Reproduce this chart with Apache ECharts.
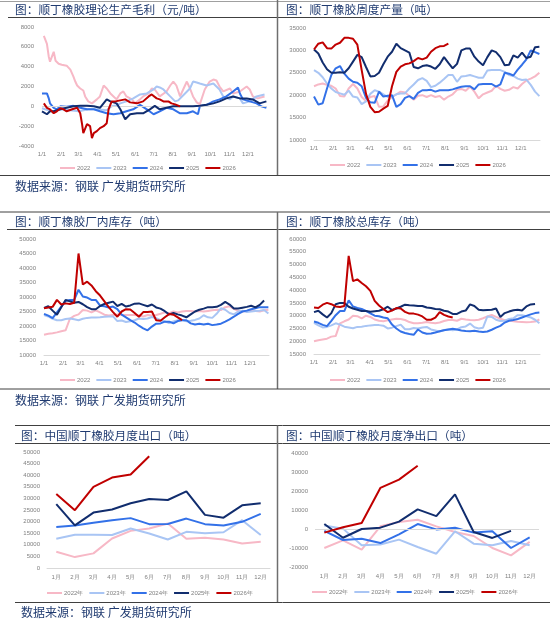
<!DOCTYPE html>
<html>
<head>
<meta charset="utf-8">
<script src="https://cdn.jsdelivr.net/npm/echarts@6/dist/echarts.min.js"></script>
<style>
  html, body { margin: 0; padding: 0; background: #fff; }
  #main { width: 550px; height: 620px; }
</style>
</head>
<body>
<div id="main"></div>
<script>
// ---- axis labels ----
var monthDays = [0, 31, 59, 90, 120, 151, 181, 212, 243, 273, 304, 334];
var monthTicks = ['1/1', '2/1', '3/1', '4/1', '5/1', '6/1', '7/1', '8/1', '9/1', '10/1', '11/1', '12/1'];
var months = ['1月', '2月', '3月', '4月', '5月', '6月', '7月', '8月', '9月', '10月', '11月', '12月'];
var years = ['2022', '2023', '2024', '2025', '2026'];
var yearsCn = ['2022年', '2023年', '2024年', '2025年', '2026年'];
var colors = ['#F7B8C6', '#A9C5F4', '#3371E8', '#112D6E', '#C00000'];

// ---- 顺丁橡胶理论生产毛利 (day of year, 元/吨) ----
var margin2022 = [[3,7100],[5,6900],[8,6300],[11,5000],[13,4500],[16,4700],[19,5500],[22,4600],[27,4300],[32,4200],[40,4100],[43,4200],[46,3700],[51,3000],[54,2500],[57,2100],[62,1800],[67,1600],[70,1000],[75,500],[81,300],[89,700],[94,1000],[100,2100],[105,1800],[111,1300],[116,1000],[121,700],[127,1300],[132,1500],[137,1000],[146,700],[151,300],[159,700],[164,1000],[173,1300],[178,1800],[183,1700],[191,1000],[202,1500],[208,2100],[213,2500],[218,2100],[224,1000],[229,1700],[235,2500],[240,1800],[245,1000],[251,400],[256,200],[259,300],[264,1700],[272,2500],[278,2700],[283,2600],[288,2000],[294,1500],[305,1800],[310,1300],[321,1500],[332,2000],[337,1700],[342,1000],[350,800],[361,1000]];
var margin2023 = [[0,-200],[10,-400],[20,-500],[30,-300],[45,-400],[60,-500],[75,-300],[90,-300],[105,-400],[113,0],[121,100],[127,300],[137,500],[148,800],[159,1200],[170,1300],[181,1700],[186,2000],[191,1900],[197,1700],[208,1000],[216,500],[221,600],[232,1300],[240,1800],[245,2500],[251,2400],[256,2300],[267,2100],[278,2300],[288,1700],[294,1000],[305,700],[310,1000],[321,800],[326,300],[337,500],[348,1000],[361,1200]];
var margin2024 = [[0,1300],[8,1300],[11,800],[13,300],[19,-150],[24,-300],[30,0],[40,-50],[51,50],[62,-150],[73,-300],[84,-300],[94,-500],[105,-700],[116,-800],[127,-700],[137,-500],[148,-300],[159,150],[170,-300],[181,-800],[191,-500],[202,-150],[213,-300],[224,-700],[235,-700],[245,-500],[253,-800],[256,0],[267,150],[278,500],[288,700],[299,1000],[310,1500],[318,1900],[321,1300],[326,700],[337,500],[348,300],[356,0],[364,-150]];
var margin2025 = [[0,-500],[8,-800],[13,-500],[19,-500],[30,-300],[40,-150],[51,0],[62,50],[73,50],[84,0],[94,-150],[105,700],[111,500],[121,300],[127,-300],[135,-1300],[143,-800],[154,-700],[164,-700],[175,-300],[183,50],[191,-300],[202,-150],[213,0],[224,0],[235,0],[245,0],[256,50],[267,150],[278,300],[288,500],[299,800],[310,1000],[321,800],[332,800],[342,700],[353,300],[364,500]];
var margin2026 = [[3,300],[8,-150],[13,-300],[19,-700],[24,-500],[30,-200],[35,-300],[40,-500],[49,-300],[57,-150],[62,-700],[65,-1800],[67,-2700],[73,-1800],[78,-2000],[81,-3200],[84,-2700],[89,-2500],[94,-2200],[100,-2000],[105,-1700],[108,-300],[113,500],[119,500],[127,600],[135,700],[143,400],[154,300],[164,500],[173,1000],[178,1200],[186,800],[191,700],[197,500],[205,500],[210,300],[216,200],[224,0]];

// ---- 顺丁橡胶周度产量 (weekly, 吨) ----
var prod2022 = [22000,22400,22600,22300,22100,21500,19800,19700,21500,22500,21500,19600,18700,19600,19800,17400,17500,18800,19600,20200,20800,20600,19800,19000,19900,20000,19600,20000,19600,19800,19000,19700,20200,21200,21400,21000,21900,20800,19300,20200,20600,21000,22100,21400,21000,21200,21800,21500,22500,23300,23700,24200,25000];
var prod2023 = [25600,25000,24000,22600,21500,20700,20400,20100,21000,19700,19500,18000,18600,20300,21100,20800,20200,19600,19700,20200,20400,20400,21500,22400,23400,23800,23200,21800,22100,22800,23600,24500,24500,23000,24200,24300,24500,24200,23900,23900,25500,25600,25600,25600,25200,24500,24300,23700,23400,23500,22300,20800,19800];
var prod2024 = [19700,17900,18200,21500,24500,26000,26500,24800,23700,23000,22800,22000,19400,18400,18300,20800,19700,19900,20000,17400,18000,19400,19800,19200,20500,21100,21100,21200,20800,21100,21100,21100,21300,21600,21900,22000,22000,21300,22400,22500,22500,22500,21900,22400,25000,24800,24400,25700,26800,28000,30000,29600,29200];
var prod2025 = [30200,29300,27300,25800,25000,25000,25100,25000,26000,27500,29000,28500,26300,24200,24300,25000,26900,28600,29700,31500,30500,30000,29500,26300,26000,26500,26700,26400,25900,26900,28500,27200,26000,27000,30000,30400,30400,28600,27500,26700,28500,30000,29600,28500,26700,26800,28900,28400,29500,28300,28600,30700,30800];
var prod2026 = [30200,31500,31800,30500,30400,31300,31700,32800,32800,32600,31300,25600,20300,17400,16200,16300,17000,17600,22000,25200,26400,26900,27100,27600,28300,28000,28400,29700,30500,30900,31000,31500];

// ---- 顺丁橡胶厂内库存 (weekly, 吨) ----
var fac2022 = [17000,17300,17500,17800,18200,18500,22500,23500,24000,25500,25300,24700,25400,24700,23900,23600,23800,24000,23800,23800,23800,23800,23600,23300,23800,23600,23800,24200,24700,24400,25000,24700,25000,25200,25200,25000,25200,25000,25200,25400,25600,25500,26500,26800,25900,25200,25000,25200,25400,25200,25000,25400,25600];
var fac2023 = [23800,23300,22500,22000,22000,22400,22600,22300,22000,22500,22800,22900,22900,23000,23200,23300,23300,21700,21900,21400,21600,22000,22600,22400,22600,23100,22700,22000,21600,21000,21600,22000,22100,21600,21800,22100,22600,23700,23000,22800,24200,26100,25600,24500,24000,25000,25300,24800,25000,25200,25300,25500,24300];
var fac2024 = [24200,23600,22700,24700,26700,28600,29000,29000,32500,30200,29800,29000,29000,27000,26800,26400,26700,25800,23900,23000,22000,21200,20100,19200,18500,19800,20800,20900,21500,21500,20900,21700,22000,22000,20900,20500,20800,20500,20800,20300,20500,20800,21500,22300,23200,24200,25000,25300,25800,26100,26500,26500,26500];
var fac2025 = [26200,26800,25300,23900,26500,29000,28500,28000,28300,27500,26500,25800,25800,26900,27600,28000,28400,26900,27600,26700,27100,27700,27800,27300,26800,27400,26400,26000,25100,24000,24500,24000,23600,23000,24000,25000,25600,26000,26500,26500,26600,27300,28300,27400,26000,26000,26300,26600,27000,26400,27300,28800];
var fac2026 = [26100,26400,26600,29000,27400,27800,27600,28000,45000,34300,35300,34000,32000,30500,28500,26500,24800,23200,25000,25800,25700,24500,23200,24800,24800,25000,22000,21800,23000,24100,23900,23000,22000];

// ---- 顺丁橡胶总库存 (weekly, 吨) ----
var tot2022 = [20000,20400,20700,21000,21800,22000,27000,27800,28500,30000,29800,28900,30000,29500,28500,28000,27800,28200,28500,28800,28700,28300,27500,27000,27000,27200,27500,27200,27000,27300,27900,28300,28300,28000,28800,28500,28300,28200,28400,29000,29700,30300,29500,28800,28200,28200,27800,27600,27500,27400,27500,27700,28500];
var tot2023 = [27200,26200,25400,25600,26200,27000,26500,25700,25400,25100,25600,25700,26000,26200,26300,26300,26100,25000,25300,25900,26500,24700,24700,25200,25000,25400,25600,24600,24200,23800,24400,24600,24300,24600,25500,25800,26900,25500,25000,25300,29700,29500,28400,27900,28000,28700,29000,30200,30200,29800,29300,28400,27000];
var tot2024 = [27700,27200,26400,25900,28000,30200,31800,31800,36000,33600,33000,32600,31900,30900,30000,29800,29300,29000,26500,25000,23800,23200,22800,22500,24600,23400,22900,23000,23400,23900,24300,24600,24900,24600,24200,24000,23900,24100,23800,23600,23800,24500,25300,26000,27300,28000,28300,28700,29300,29900,30500,31000,31200];
var tot2025 = [31400,31900,30500,29300,31000,34500,35000,35000,33500,32800,32300,31800,31800,31500,31700,31900,32500,33500,32200,32800,33500,34300,34100,34000,33800,33800,33200,33000,32600,32500,31900,31600,30700,30700,31600,32000,34400,33800,32300,32100,32200,32300,32800,29500,31000,31600,32100,32300,32000,33600,34400,34600];
var tot2026 = [33200,33000,34300,35000,34500,33600,33400,33800,53400,43500,44200,42800,41500,39700,35800,34000,32600,31400,32000,33000,32800,31500,30800,30800,30400,29700,28400,28400,29200,31400,30300,29700,29300];

// ---- 中国顺丁橡胶月度出口 (吨) ----
var exp2022 = [7000,4700,6300,12700,16000,17000,19200,12600,13000,12300,10600,11300];
var exp2023 = [12600,14300,14300,14200,17000,14900,12300,15600,15000,15400,20600,14200];
var exp2024 = [17700,18300,19500,20600,21500,18900,19000,21300,18900,18300,19900,23300];
var exp2025 = [27500,18400,23900,25200,27900,29700,29300,33000,22900,21700,27000,27900];
var exp2026 = [31900,24900,35000,39000,40300,48200];

// ---- 中国顺丁橡胶月度净出口 (吨) ----
var net2022 = [-10000,-6000,-10900,1400,3700,4900,1400,-1600,-3700,-10000,-13900,-6800];
var net2023 = [1900,200,-8600,-8200,-5600,-9500,-13000,-1200,-7700,-8600,-6300,-8600];
var net2024 = [-1000,-5800,-5100,-7400,-2800,2600,-200,700,-1900,-1200,-10000,-4400];
var net2025 = [2600,-4600,0,700,3900,10300,6800,18200,-1600,-4700,-1000];
var net2026 = [-1900,900,3200,21600,26000,33300];

function weekly(vals) {
    return vals.map(function (v, i) { return [i * 7, v]; });
}

var labelColor = '#808080';
var grids = [], xAxes = [], yAxes = [], series = [], legends = [];

function plain(v) { return String(v); }

function dayChart(box, ymin, ymax, yint, showBase) {
    var g = grids.length;
    grids.push(box);
    xAxes.push({
        type: 'value', gridIndex: g, min: 0, max: 365,
        splitLine: {show: false}, axisTick: {show: false},
        axisLine: {show: showBase, onZero: false, lineStyle: {color: '#d9d9d9'}},
        axisLabel: {
            customValues: monthDays, fontSize: 6, color: labelColor, margin: 5,
            formatter: function (v) { return monthTicks[monthDays.indexOf(v)]; }
        }
    });
    yAxes.push({
        type: 'value', gridIndex: g, min: ymin, max: ymax, interval: yint,
        splitLine: {show: false}, axisLine: {show: false}, axisTick: {show: false},
        axisLabel: {fontSize: 6, color: labelColor, margin: 8, formatter: plain}
    });
    return g;
}

function monthChart(box, ymin, ymax, yint, showBase) {
    var g = grids.length;
    grids.push(box);
    xAxes.push({
        type: 'category', gridIndex: g, data: months,
        axisTick: {show: false},
        axisLine: {show: showBase, onZero: false, lineStyle: {color: '#d9d9d9'}},
        axisLabel: {fontSize: 6, color: labelColor, margin: 6, interval: 0}
    });
    yAxes.push({
        type: 'value', gridIndex: g, min: ymin, max: ymax, interval: yint,
        splitLine: {show: false}, axisLine: {show: false}, axisTick: {show: false},
        axisLabel: {fontSize: 6, color: labelColor, margin: 7, formatter: plain}
    });
    return g;
}

function addLines(g, names, datas, zeroLine) {
    datas.forEach(function (d, k) {
        var s = {
            type: 'line', name: names[k], xAxisIndex: g, yAxisIndex: g,
            data: d, symbol: 'none', showSymbol: false,
            lineStyle: {width: 2, color: colors[k]}, itemStyle: {color: colors[k]},
            z: 2 + k
        };
        if (zeroLine && k === 0) {
            s.markLine = {
                silent: true, symbol: 'none', label: {show: false},
                lineStyle: {color: '#d9d9d9', type: 'solid', width: 1},
                data: [{yAxis: 0}]
            };
        }
        series.push(s);
    });
}

function addLegend(names, left, top) {
    legends.push({
        data: names, left: left, top: top, padding: 0,
        icon: 'rect', itemWidth: 15, itemHeight: 2, itemGap: 6,
        textStyle: {fontSize: 6, color: labelColor, padding: [0, 0, 0, -3]}
    });
}

// top-left: margin
var g1 = dayChart({left: 42, right: 283, top: 27, bottom: 474}, -4000, 8000, 2000, false);
addLines(g1, years, [margin2022, margin2023, margin2024, margin2025, margin2026], true);
addLegend(years, 60, 165);

// top-right: production
var g2 = dayChart({left: 314, right: 10, top: 28, bottom: 480}, 10000, 35000, 5000, true);
addLines(g2, years, [weekly(prod2022), weekly(prod2023), weekly(prod2024), weekly(prod2025), weekly(prod2026)], false);
addLegend(years, 330, 162);

// mid-left: factory inventory
var g3 = dayChart({left: 44, right: 281, top: 239, bottom: 265}, 10000, 50000, 5000, true);
addLines(g3, years, [weekly(fac2022), weekly(fac2023), weekly(fac2024), weekly(fac2025), weekly(fac2026)], false);
addLegend(years, 60, 377);

// mid-right: total inventory
var g4 = dayChart({left: 314, right: 10, top: 239, bottom: 266}, 15000, 60000, 5000, true);
addLines(g4, years, [weekly(tot2022), weekly(tot2023), weekly(tot2024), weekly(tot2025), weekly(tot2026)], false);
addLegend(years, 330, 377);

// bottom-left: export
var g5 = monthChart({left: 47, right: 280, top: 452, bottom: 52}, 0, 50000, 5000, true);
addLines(g5, yearsCn, [exp2022, exp2023, exp2024, exp2025, exp2026], false);
addLegend(yearsCn, 47, 590);

// bottom-right: net export
var g6 = monthChart({left: 315, right: 11, top: 453, bottom: 53}, -20000, 40000, 10000, false);
addLines(g6, yearsCn, [net2022, net2023, net2024, net2025, net2026], true);
addLegend(yearsCn, 312, 589);

var titleColor = '#1F3A70';
var cjk = '"Noto Sans CJK SC", sans-serif';
function txt(str, x, y, size) {
    return {type: 'text', x: x, y: y, silent: true,
        style: {text: str, fill: titleColor, fontSize: size, fontFamily: cjk, verticalAlign: 'middle'}};
}
function ln(x1, y1, x2, y2, color, w) {
    return {type: 'line', silent: true, shape: {x1: x1, y1: y1, x2: x2, y2: y2},
        style: {stroke: color, lineWidth: w}};
}

var graphics = [
    ln(0, 1.5, 550, 1.5, '#a0a0a0', 1),
    ln(8, 17.5, 550, 17.5, '#404040', 1),
    ln(277.5, 0, 277.5, 175.5, '#6e6e6e', 1.5),
    ln(0, 175.5, 550, 175.5, '#404040', 1),
    txt('图：顺丁橡胶理论生产毛利（元/吨）', 15, 10, 11.7),
    txt('图：顺丁橡胶周度产量（吨）', 286, 10, 11.7),
    txt('数据来源：钢联 广发期货研究所', 15, 186, 12),

    ln(0, 212, 550, 212, '#404040', 1),
    ln(7, 229.5, 550, 229.5, '#404040', 1),
    ln(277.5, 212, 277.5, 389, '#6e6e6e', 1.5),
    ln(0, 389, 550, 389, '#404040', 1),
    txt('图：顺丁橡胶厂内库存（吨）', 15, 222, 11.7),
    txt('图：顺丁橡胶总库存（吨）', 286, 222, 11.7),
    txt('数据来源：钢联 广发期货研究所', 15, 400, 12),

    ln(15, 425.5, 550, 425.5, '#404040', 1),
    ln(15, 443.5, 550, 443.5, '#404040', 1),
    ln(277.5, 425.5, 277.5, 602.5, '#6e6e6e', 1.5),
    ln(15, 602.5, 550, 602.5, '#404040', 1),
    txt('图：中国顺丁橡胶月度出口（吨）', 21, 435.5, 11.7),
    txt('图：中国顺丁橡胶月度净出口（吨）', 286, 435.5, 11.7),
    txt('数据来源：钢联 广发期货研究所', 21, 612.5, 12)
];

var myChart = echarts.init(document.getElementById('main'));
myChart.setOption({
    animation: false,
    backgroundColor: '#ffffff',
    textStyle: {fontFamily: 'Liberation Sans, sans-serif'},
    grid: grids,
    xAxis: xAxes,
    yAxis: yAxes,
    legend: legends,
    series: series,
    graphic: graphics
});
</script>
</body>
</html>
